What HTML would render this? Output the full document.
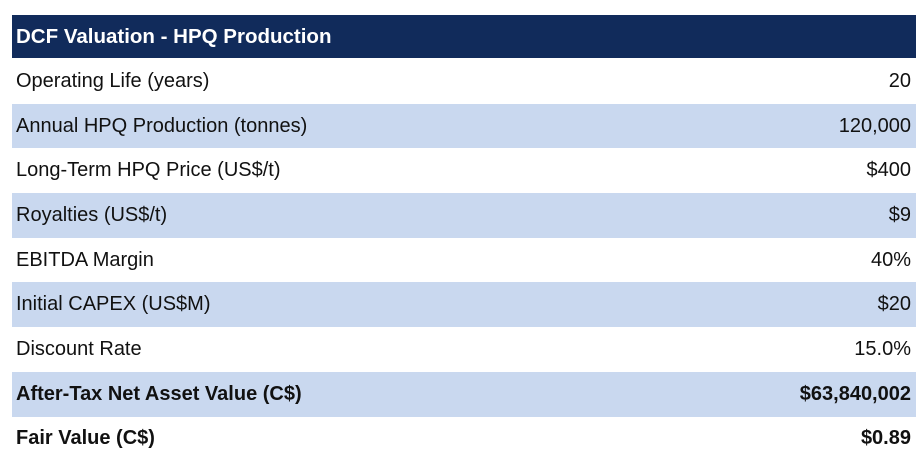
<!DOCTYPE html>
<html><head><meta charset="utf-8"><style>
body{margin:0;width:916px;height:474px;background:#fff;font-family:"Liberation Sans",Arial,sans-serif;overflow:hidden;position:relative}
.t{position:absolute;left:12px;top:15px;width:904px}
.r{height:44.7px;display:flex;align-items:center;justify-content:space-between;padding:0 5px 0 4px;font-size:20px;color:#111;box-sizing:border-box}
.h{height:44px;background:#112b5b;color:#fff;font-weight:bold;border-bottom:1px solid #fff;font-size:20.5px}
.b{background:#c9d8ef}
.bold{font-weight:bold}
</style></head><body>
<div class="t">
<div class="r h"><span>DCF Valuation - HPQ Production</span></div>
<div class="r"><span>Operating Life (years)</span><span>20</span></div>
<div class="r b"><span>Annual HPQ Production (tonnes)</span><span>120,000</span></div>
<div class="r"><span>Long-Term HPQ Price (US$/t)</span><span>$400</span></div>
<div class="r b"><span>Royalties (US$/t)</span><span>$9</span></div>
<div class="r"><span>EBITDA Margin</span><span>40%</span></div>
<div class="r b"><span>Initial CAPEX (US$M)</span><span>$20</span></div>
<div class="r"><span>Discount Rate</span><span>15.0%</span></div>
<div class="r b bold"><span>After-Tax Net Asset Value (C$)</span><span>$63,840,002</span></div>
<div class="r bold"><span>Fair Value (C$)</span><span>$0.89</span></div>
</div>
</body></html>
